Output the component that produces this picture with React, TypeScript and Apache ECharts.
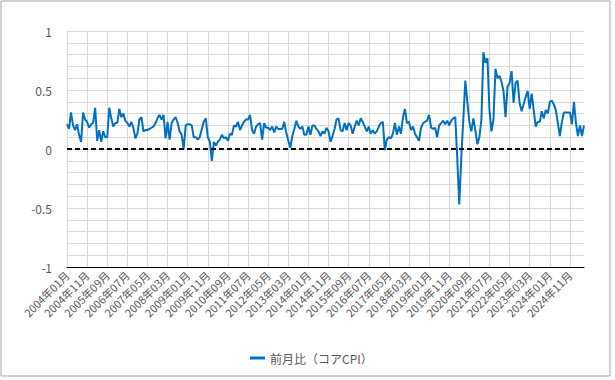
import React, { useEffect, useRef } from "react";
import * as echarts from "echarts";

// Month-over-month change (core CPI), %
const v2004 = [0.21, 0.17, 0.31, 0.2, 0.16, 0.21, 0.12, 0.06, 0.31, 0.25, 0.23, 0.18];
const v2005 = [0.21, 0.22, 0.35, 0.07, 0.16, 0.06, 0.15, 0.1, 0.1, 0.35, 0.26, 0.19];
const v2006 = [0.22, 0.22, 0.34, 0.27, 0.3, 0.24, 0.22, 0.19, 0.23, 0.18, 0.09, 0.13];
const v2007 = [0.25, 0.27, 0.15, 0.16, 0.16, 0.17, 0.18, 0.19, 0.22, 0.26, 0.29, 0.25];
const v2008 = [0.29, 0.09, 0.23, 0.08, 0.22, 0.25, 0.27, 0.22, 0.15, 0.12, 0.0, 0.2];
const v2009 = [0.21, 0.21, 0.2, 0.1, 0.1, 0.08, 0.1, 0.17, 0.23, 0.26, 0.1, 0.06];
const v2010 = [-0.1, 0.06, 0.03, 0.06, 0.08, 0.12, 0.09, 0.1, 0.07, 0.13, 0.12, 0.2];
const v2011 = [0.19, 0.23, 0.16, 0.2, 0.23, 0.25, 0.25, 0.29, 0.16, 0.13, 0.19, 0.21];
const v2012 = [0.22, 0.08, 0.22, 0.18, 0.18, 0.16, 0.19, 0.14, 0.19, 0.17, 0.17, 0.17];
const v2013 = [0.23, 0.14, 0.07, 0.01, 0.11, 0.17, 0.24, 0.19, 0.17, 0.19, 0.12, 0.12];
const v2014 = [0.19, 0.12, 0.2, 0.2, 0.17, 0.15, 0.11, 0.15, 0.13, 0.18, 0.15, 0.06];
const v2015 = [0.11, 0.17, 0.25, 0.26, 0.16, 0.15, 0.22, 0.16, 0.22, 0.2, 0.13, 0.19];
const v2016 = [0.24, 0.2, 0.26, 0.23, 0.19, 0.15, 0.19, 0.13, 0.16, 0.13, 0.15, 0.19];
const v2017 = [0.22, 0.23, -0.01, 0.08, 0.1, 0.09, 0.13, 0.22, 0.12, 0.19, 0.13, 0.27];
const v2018 = [0.34, 0.22, 0.23, 0.16, 0.19, 0.13, 0.1, 0.07, 0.18, 0.22, 0.23, 0.24];
const v2019 = [0.29, 0.18, 0.17, 0.18, 0.1, 0.2, 0.22, 0.24, 0.21, 0.24, 0.2, 0.24];
const v2020 = [0.26, 0.27, -0.08, -0.47, -0.07, 0.25, 0.58, 0.4, 0.23, 0.15, 0.26, 0.16];
const v2021 = [0.04, 0.1, 0.25, 0.82, 0.73, 0.77, 0.33, 0.15, 0.25, 0.68, 0.6, 0.62];
const v2022 = [0.57, 0.49, 0.27, 0.53, 0.56, 0.66, 0.39, 0.56, 0.58, 0.39, 0.32, 0.38];
const v2023 = [0.44, 0.49, 0.34, 0.47, 0.33, 0.19, 0.23, 0.23, 0.32, 0.26, 0.33, 0.3];
const v2024 = [0.4, 0.41, 0.38, 0.33, 0.22, 0.11, 0.23, 0.31, 0.31, 0.31, 0.31, 0.21];
const v2025 = [0.4, 0.22, 0.11, 0.2, 0.11, 0.2];

const yearly = [
  v2004, v2005, v2006, v2007, v2008, v2009, v2010, v2011, v2012, v2013, v2014,
  v2015, v2016, v2017, v2018, v2019, v2020, v2021, v2022, v2023, v2024, v2025,
];
const firstYear = 2004;
const seriesName = "前月比（コアCPI）";

const values: number[] = [];
const categories: string[] = [];
yearly.forEach((arr, yi) => {
  arr.forEach((v, mi) => {
    values.push(v);
    categories.push(`${firstYear + yi}年${String(mi + 1).padStart(2, "0")}月`);
  });
});

const FONT = "'Noto Sans CJK JP', 'Noto Sans', sans-serif";

export default function App() {
  const ref = useRef<HTMLDivElement>(null);
  useEffect(() => {
    if (!ref.current) return;
    const chart = echarts.init(ref.current, undefined, { renderer: "svg" });
    chart.setOption({
      animation: false,
      backgroundColor: "#ffffff",
      textStyle: { fontFamily: FONT },
      grid: { left: 67, right: 31, top: 31, bottom: 113 },
      legend: {
        data: [seriesName],
        left: 245,
        top: 347,
        icon: "rect",
        itemWidth: 15,
        itemHeight: 3,
        itemGap: 5,
        textStyle: { fontSize: 12, color: "#595959", fontFamily: FONT },
      },
      xAxis: {
        type: "category",
        data: categories,
        boundaryGap: false,
        axisLine: { show: true, onZero: false, lineStyle: { color: "#000000", width: 1 } },
        axisTick: { show: false },
        axisLabel: {
          interval: 9,
          rotate: 45,
          margin: 6,
          fontSize: 11,
          color: "#595959",
          fontFamily: FONT,
        },
        splitLine: { show: true, interval: 9, lineStyle: { color: "#d9d9d9", width: 1 } },
      },
      yAxis: {
        type: "value",
        min: -1,
        max: 1,
        interval: 0.5,
        axisLine: { show: false },
        axisTick: { show: false },
        axisLabel: { fontSize: 12, color: "#595959", margin: 15, fontFamily: FONT },
        splitLine: { show: true, lineStyle: { color: "#d9d9d9", width: 1 } },
        minorTick: { show: false, splitNumber: 5 },
        minorSplitLine: { show: true, lineStyle: { color: "#d9d9d9", width: 1 } },
      },
      series: [
        {
          name: seriesName,
          type: "line",
          data: values,
          showSymbol: false,
          symbol: "none",
          lineStyle: { color: "#0070C0", width: 2 },
          itemStyle: { color: "#0070C0" },
          markLine: {
            silent: true,
            symbol: "none",
            label: { show: false },
            lineStyle: { color: "#000000", width: 2, type: [5, 3] },
            data: [
              [
                { coord: [categories[0], 0] },
                { coord: [categories[categories.length - 1], 0] },
              ],
            ],
          },
          z: 3,
        },
      ],
      graphic: [
        {
          type: "rect",
          shape: { x: 1, y: 1, width: 609, height: 375 },
          style: { fill: "none", stroke: "#a6a6a6", lineWidth: 1 },
          silent: true,
        },
      ],
    });
    return () => chart.dispose();
  }, []);
  return (
    <div
      ref={ref}
      style={{ position: "fixed", left: 0, top: 0, width: 615, height: 380, background: "#fff" }}
    />
  );
}
